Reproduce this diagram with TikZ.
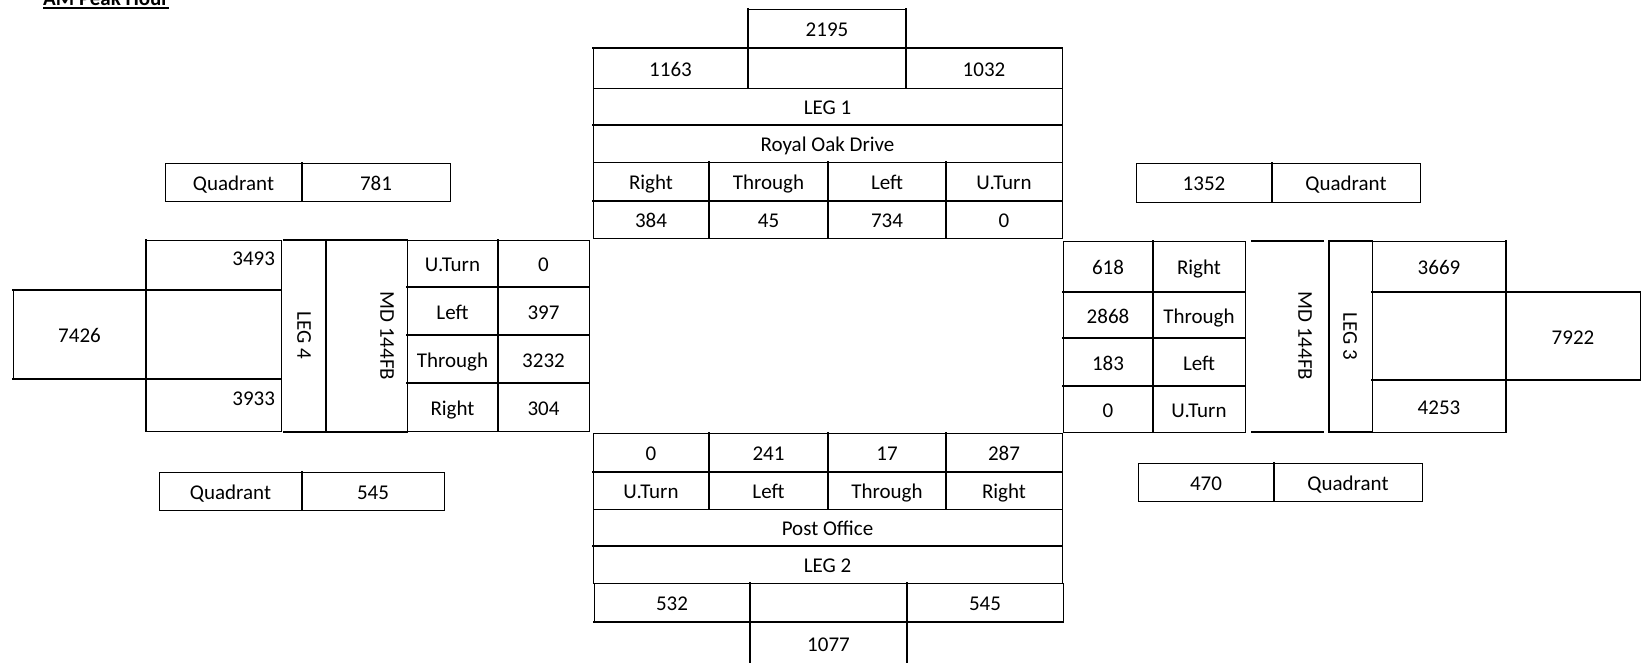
\documentclass[tikz,border=0pt]{standalone}
\usepackage{fontspec}
\setmainfont{Carlito}
\tikzset{
  cellbox/.style={draw, line width=1pt, inner sep=0pt, outer sep=0pt,
    font=\fontsize{21}{25}\selectfont, text height=16.5pt, text depth=0pt},
  txt/.style={inner sep=0pt, outer sep=0pt, font=\fontsize{21}{25}\selectfont,
    text height=13.5pt, text depth=0pt},
  thk/.style={line width=2.4pt, line cap=rect},
}
\newcommand\cellnode[7][]{%
  \node[cellbox,#1,minimum width={(#5-#3)*1pt},minimum height={(#6-#4)*1pt}]
    (#2) at ({(#3+#5)/2},{(#4+#6)/2}) {#7};}
\begin{document}
\begin{tikzpicture}[x=1pt,y=-1pt]
\useasboundingbox (0,0) rectangle (1643,662);
\clip (0,0) rectangle (1643,662);

% title
\node[anchor=base west, inner sep=0pt, font=\fontsize{21}{25}\selectfont\bfseries] (title) at (43,5) {AM Peak Hour};
\draw[line width=2pt] ([yshift=-3.3pt]title.base west) -- ([yshift=-3.3pt]title.base east);

% ---------------- LEG 1 (top)
\cellnode{t2195}{748}{9}{906}{48}{2195}
\cellnode{t1163}{593}{48}{748}{88}{1163}
\cellnode{tmid}{748}{48}{906}{88}{}
\cellnode{t1032}{906}{48}{1062}{88}{1032}
\cellnode{leg1}{593}{88}{1062}{125}{LEG 1}
\cellnode{road1}{593}{125}{1062}{162}{Royal Oak Drive}
\cellnode{nR}{593}{162}{709}{201}{Right}
\cellnode{nT}{709}{162}{828}{201}{Through}
\cellnode{nL}{828}{162}{946}{201}{Left}
\cellnode{nU}{946}{162}{1062}{201}{U.Turn}
\cellnode{nRv}{593}{201}{709}{238}{384}
\cellnode{nTv}{709}{201}{828}{238}{45}
\cellnode{nLv}{828}{201}{946}{238}{734}
\cellnode{nUv}{946}{201}{1062}{238}{0}
\draw[thk] (t2195.north west) -- (tmid.south west);
\draw[thk] (t2195.north east) -- (tmid.south east);
\draw[thk] (t1163.north west) -- (t1032.north east);
\draw[thk] (road1.north west) -- (road1.north east);
\draw[thk] (nT.north west) -- (nTv.south west);
\draw[thk] (nL.north west) -- (nLv.south west);
\draw[thk] (nU.north west) -- (nUv.south west);
\draw[thk] (nRv.north west) -- (nUv.north east);

% ---------------- LEG 2 (bottom)
\cellnode{sUv}{593}{433}{709}{472}{0}
\cellnode{sLv}{709}{433}{828}{472}{241}
\cellnode{sTv}{828}{433}{946}{472}{17}
\cellnode{sRv}{946}{433}{1062}{472}{287}
\cellnode{sU}{593}{472}{709}{509}{U.Turn}
\cellnode{sL}{709}{472}{828}{509}{Left}
\cellnode{sT}{828}{472}{946}{509}{Through}
\cellnode{sR}{946}{472}{1062}{509}{Right}
\cellnode{road2}{593}{509}{1062}{546}{Post Office}
\cellnode{leg2}{593}{546}{1062}{583}{LEG 2}
\cellnode{s532}{594}{583}{750}{622}{532}
\cellnode{smid}{750}{583}{907}{622}{}
\cellnode{s545}{907}{583}{1063}{622}{545}
\cellnode{s1077}{750}{622}{907}{664}{1077}
\draw[thk] (sLv.north west) -- (sL.south west);
\draw[thk] (sTv.north west) -- (sT.south west);
\draw[thk] (sRv.north west) -- (sR.south west);
\draw[thk] (sU.north west) -- (sR.north east);
\draw[thk] (leg2.north west) -- (leg2.north east);
\draw[thk] (smid.north west) -- (s1077.south west);
\draw[thk] (smid.north east) -- (s1077.south east);
\draw[thk] (s532.south west) -- (s545.south east);

% ---------------- LEG 4 (left)
\cellnode{qa1}{165}{163}{302}{201}{Quadrant}
\cellnode{qa2}{302}{163}{450}{201}{781}
\draw[thk] (qa2.north west) -- (qa2.south west);
\cellnode{qb1}{159}{472}{302}{510}{Quadrant}
\cellnode{qb2}{302}{472}{444}{510}{545}
\draw[thk] (qb2.north west) -- (qb2.south west);

\cellnode{w3493}{146}{240}{281}{290}{}
\cellnode{wmid}{146}{290}{281}{379}{}
\cellnode{w3933}{146}{379}{281}{431}{}
\cellnode{w7426}{13}{290}{146}{379}{7426}
\node[txt, anchor=east] (w3493t) at (275,258.5) {3493};
\node[txt, anchor=east] (w3933t) at (275,398.5) {3933};
\draw[thk] (w3493.north west) -- (w3933.south west);
\draw[thk] (w7426.north west) -- (wmid.north east);
\draw[thk] (w7426.south west) -- (wmid.south east);

\coordinate (l4tl) at (284,240);
\coordinate (l4bl) at (284,432);
\coordinate (l4tr) at (326,240);
\coordinate (l4br) at (326,432);
\coordinate (m4tr) at (407,240);
\coordinate (m4br) at (407,432);
\draw[thk] (l4tl) -- (m4tr);
\draw[thk] (l4bl) -- (m4br);
\draw[thk] (l4tr) -- (l4br);
\node[txt, rotate=-90] (leg4) at (304,335.5) {LEG 4};
\node[txt, rotate=-90] (md4) at (387,336) {MD 144FB};

\cellnode{wU}{407}{240}{498}{287}{U.Turn}
\cellnode{wUv}{498}{240}{589}{287}{0}
\cellnode{wL}{407}{287}{498}{335}{Left}
\cellnode{wLv}{498}{287}{589}{335}{397}
\cellnode{wT}{407}{335}{498}{383}{Through}
\cellnode{wTv}{498}{335}{589}{383}{3232}
\cellnode{wR}{407}{383}{498}{431}{Right}
\cellnode{wRv}{498}{383}{589}{431}{304}
\draw[thk] (wUv.north west) -- (wRv.south west);
\draw[thk] (wL.north west) -- (wLv.north east);
\draw[thk] (wT.north west) -- (wTv.north east);
\draw[thk] (wR.north west) -- (wRv.north east);

% ---------------- LEG 3 (right)
\cellnode{qc1}{1136}{163}{1272}{202}{1352}
\cellnode{qc2}{1272}{163}{1420}{202}{Quadrant}
\draw[thk] (qc2.north west) -- (qc2.south west);
\cellnode{qd1}{1138}{463}{1274}{501}{470}
\cellnode{qd2}{1274}{463}{1422}{501}{Quadrant}
\draw[thk] (qd2.north west) -- (qd2.south west);

\cellnode{eRv}{1063}{241}{1153}{292}{618}
\cellnode{eR}{1153}{241}{1245}{292}{Right}
\cellnode{eTv}{1063}{292}{1153}{338}{2868}
\cellnode{eT}{1153}{292}{1245}{338}{Through}
\cellnode{eLv}{1063}{338}{1153}{386}{183}
\cellnode{eL}{1153}{338}{1245}{386}{Left}
\cellnode{eUv}{1063}{386}{1153}{432}{0}
\cellnode{eU}{1153}{386}{1245}{432}{U.Turn}
\draw[thk] (eR.north west) -- (eU.south west);
\draw[thk] (eTv.north west) -- (eT.north east);
\draw[thk] (eLv.north west) -- (eL.north east);
\draw[thk] (eUv.north west) -- (eU.north east);

\coordinate (m3tl) at (1252,241);
\coordinate (m3tr) at (1323,241);
\coordinate (m3bl) at (1252,432);
\coordinate (m3br) at (1323,432);
\draw[thk] (m3tl) -- (m3tr);
\draw[thk] (m3bl) -- (m3br);
\node[txt, rotate=-90] (md3) at (1305,336) {MD 144FB};

\cellnode{leg3box}{1329}{241}{1372}{432}{}
\draw[thk] (leg3box.north east) -- (leg3box.north west) -- (leg3box.south west) -- (leg3box.south east);
\node[txt, rotate=-90] (leg3) at (1350,336) {LEG 3};

\cellnode{e3669}{1372}{241}{1506}{292}{3669}
\cellnode{emid}{1372}{292}{1506}{380}{}
\cellnode{e4253}{1372}{380}{1506}{432}{4253}
\cellnode{e7922}{1506}{292}{1640}{380}{7922}
\draw[thk] (e3669.north east) -- (e4253.south east);
\draw[thk] (emid.north west) -- (e7922.north east);
\draw[thk] (emid.south west) -- (e7922.south east);
\end{tikzpicture}
\end{document}
